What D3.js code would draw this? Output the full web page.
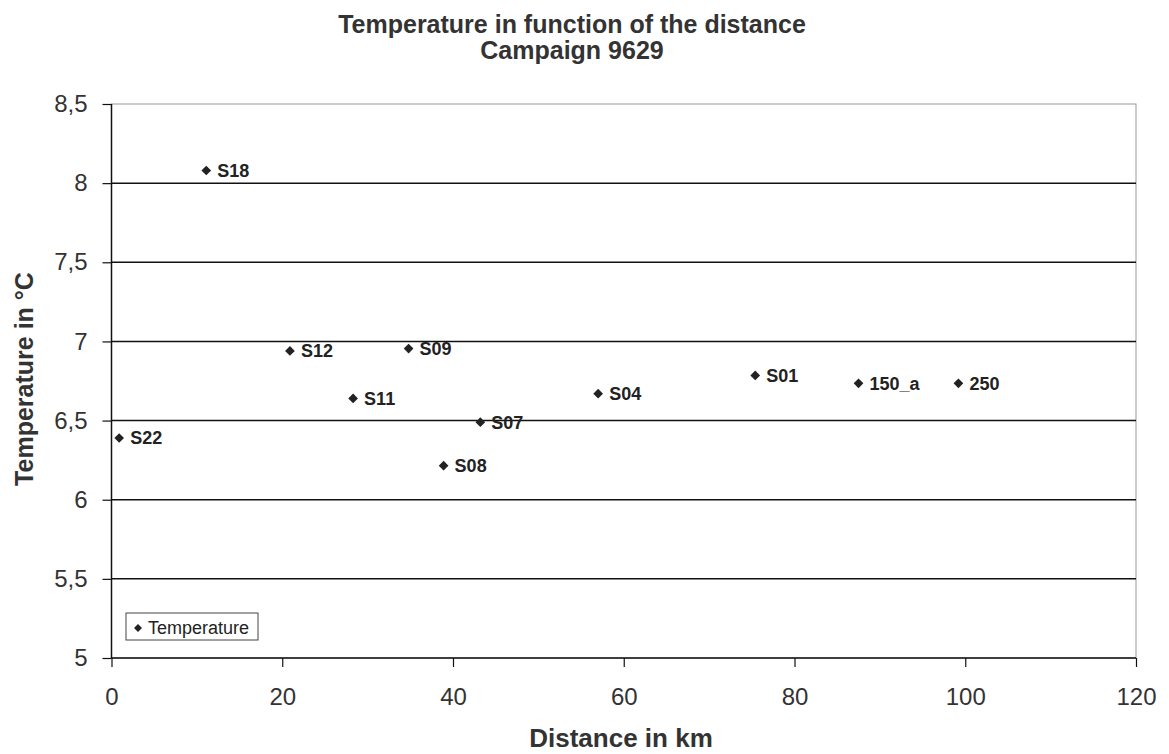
<!DOCTYPE html>
<html><head><meta charset="utf-8">
<script src="https://cdn.jsdelivr.net/npm/d3@7"></script>
<style>body{margin:0;background:#fff;} svg{display:block;font-family:"Liberation Sans",Arial,sans-serif;}</style>
</head><body>
<script>
const stations = ["S22","S18","S12","S11","S09","S08","S07","S04","S01","150_a","250"];
const distance = [0.9,11.1,20.9,28.3,34.8,38.9,43.2,57.0,75.4,87.5,99.2];
const temperature = [6.39,8.08,6.94,6.64,6.955,6.215,6.49,6.67,6.785,6.735,6.735];
const xTicks = [0,20,40,60,80,100,120];
const yTicks = [5,5.5,6,6.5,7,7.5,8,8.5];

const W=1169,H=754;
const svg=d3.select("body").append("svg").attr("width",W).attr("height",H);
const m={l:111.5,r:1136,t:104,b:658};
const x=d3.scaleLinear().domain([0,120]).range([m.l,m.r]);
const y=d3.scaleLinear().domain([5,8.5]).range([m.b,m.t]);
const fmt=d=>String(d).replace(".",",");
const FF="\"Liberation Sans\",Arial,sans-serif";

// plot border (light)
svg.append("rect").attr("x",m.l).attr("y",m.t).attr("width",m.r-m.l).attr("height",m.b-m.t)
  .attr("fill","none").attr("stroke","#999").attr("stroke-width",1);

// gridlines
svg.append("g").selectAll("line").data(yTicks.filter(d=>d>5&&d<8.5)).join("line")
  .attr("x1",m.l).attr("x2",m.r).attr("y1",d=>y(d)).attr("y2",d=>y(d))
  .attr("stroke","#111").attr("stroke-width",1.5);

// axes
const xa=svg.append("g").attr("transform",`translate(0,${m.b})`)
  .call(d3.axisBottom(x).tickValues(xTicks).tickSize(9).tickPadding(21).tickFormat(d=>d));
const ya=svg.append("g").attr("transform",`translate(${m.l},0)`)
  .call(d3.axisLeft(y).tickValues(yTicks).tickSize(9).tickPadding(15).tickFormat(fmt));
[xa,ya].forEach(a=>{
  a.select(".domain").attr("stroke","#111").attr("stroke-width",1.5);
  a.selectAll(".tick line").attr("stroke","#111").attr("stroke-width",1.2);
  a.selectAll("text").attr("font-size",24).attr("fill","#333").attr("font-family",FF);
});
xa.selectAll("text").attr("dy","0.71em");
ya.select(".domain").attr("d",`M0,${m.t}V${m.b}`);
xa.select(".domain").attr("d",`M${m.l},0H${m.r}`);

// points
const diamond=d3.symbol().type(d3.symbolDiamond2).size(60);
const pts=svg.append("g").selectAll("g").data(stations).join("g")
  .attr("transform",(d,i)=>`translate(${x(distance[i])},${y(temperature[i])})`);
pts.append("path").attr("d",diamond).attr("fill","#222");
pts.append("text").attr("x",11).attr("dy","0.36em").attr("font-size",18).attr("font-weight","bold")
  .attr("fill","#222").text(d=>d);

// titles
svg.append("text").attr("x",572).attr("y",33).attr("text-anchor","middle").attr("font-size",25)
  .attr("font-weight","bold").attr("fill","#333").text("Temperature in function of the distance");
svg.append("text").attr("x",572).attr("y",59).attr("text-anchor","middle").attr("font-size",25)
  .attr("font-weight","bold").attr("fill","#333").text("Campaign 9629");
svg.append("text").attr("x",621).attr("y",747).attr("text-anchor","middle").attr("font-size",26)
  .attr("font-weight","bold").attr("fill","#333").text("Distance in km");
svg.append("text").attr("transform","translate(33,379) rotate(-90)").attr("text-anchor","middle")
  .attr("font-size",25).attr("font-weight","bold").attr("fill","#333").text("Temperature in °C");

// legend
const lg=svg.append("g").attr("transform","translate(126,613)");
lg.append("rect").attr("width",132).attr("height",27).attr("fill","#fff").attr("stroke","#444").attr("stroke-width",1);
lg.append("path").attr("transform","translate(12,15)").attr("d",d3.symbol().type(d3.symbolDiamond2).size(40)).attr("fill","#222");
lg.append("text").attr("x",22).attr("y",15).attr("dy","0.35em").attr("font-size",18).attr("fill","#222").text("Temperature");
</script>
</body></html>
